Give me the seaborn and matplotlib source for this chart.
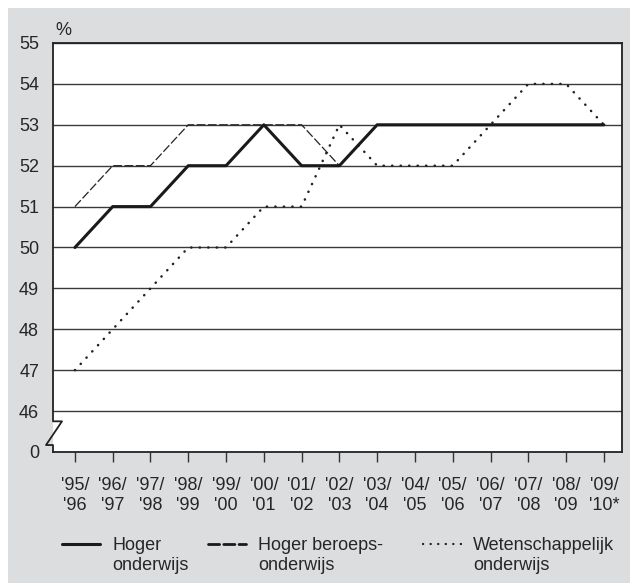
import matplotlib
matplotlib.use("Agg")
import matplotlib.pyplot as plt
import seaborn as sns
import pandas as pd
from matplotlib.lines import Line2D
from matplotlib.patches import Rectangle
from matplotlib.transforms import blended_transform_factory

years = ["'95/\n'96", "'96/\n'97", "'97/\n'98", "'98/\n'99", "'99/\n'00",
         "'00/\n'01", "'01/\n'02", "'02/\n'03", "'03/\n'04", "'04/\n'05",
         "'05/\n'06", "'06/\n'07", "'07/\n'08", "'08/\n'09", "'09/\n'10*"]
hoger_onderwijs = [50, 51, 51, 52, 52, 53, 52, 52, 53, 53, 53, 53, 53, 53, 53]
hbo = [51, 52, 52, 53, 53, 53, 53, 52, 53, 53, 53, 53, 53, 53, 53]
wo = [47, 48, 49, 50, 50, 51, 51, 53, 52, 52, 52, 53, 54, 54, 53]
y_ticks = [45, 46, 47, 48, 49, 50, 51, 52, 53, 54, 55]
y_labels = ["0", "46", "47", "48", "49", "50", "51", "52", "53", "54", "55"]
legend_labels = ["Hoger\nonderwijs", "Hoger beroeps-\nonderwijs", "Wetenschappelijk\nonderwijs"]

sns.set_theme(style="white")
plt.rcParams['font.family'] = ['Liberation Sans', 'DejaVu Sans']

W, H = 630, 583
fig = plt.figure(figsize=(W / 100, H / 100), dpi=100, facecolor="white")
bg = "#dcdddf"
fig.add_artist(Rectangle((8 / W, 0), 1 - 8 / W, 1 - 8 / H, transform=fig.transFigure,
                         facecolor=bg, edgecolor="none", zorder=-10))

L, R, T, B = 53, 622, 43, 452
ax = fig.add_axes([L / W, 1 - B / H, (R - L) / W, (B - T) / H])
ax.set_facecolor("white")

x = list(range(len(years)))
df = pd.DataFrame({"x": x, "ho": hoger_onderwijs, "hbo": hbo, "wo": wo})

for yv in range(46, 56):
    ax.axhline(yv, color="#3a3a3a", lw=1.0, zorder=1)

sns.lineplot(data=df, x="x", y="hbo", ax=ax, color="#222222", lw=0.9,
             linestyle=(0, (7, 2)), legend=False, zorder=3)
sns.lineplot(data=df, x="x", y="wo", ax=ax, color="#222222", lw=1.8,
             linestyle=(0, (0.1, 3.3)), dash_capstyle="round", legend=False, zorder=3)
sns.lineplot(data=df, x="x", y="ho", ax=ax, color="#1a1a1a", lw=2.2,
             legend=False, zorder=4)

ax.set_xlim(-0.58, 14.48)
ax.set_ylim(45, 55)
ax.set_xticks(x)
ax.set_xticklabels(years, fontsize=13, linespacing=1.25)
ax.set_yticks(y_ticks)
ax.set_yticklabels(y_labels, fontsize=13)
ax.set_xlabel("")
ax.set_ylabel("")
ax.tick_params(axis="x", which="both", bottom=True, length=7, width=1, color="#333333",
               pad=11, direction="out")
ax.tick_params(axis="y", left=False, length=0, pad=10)

for side in ["top", "right", "bottom"]:
    ax.spines[side].set_color("#222222")
    ax.spines[side].set_linewidth(1.3)
ax.spines["left"].set_visible(False)

# broken left axis
tr = blended_transform_factory(ax.transAxes, ax.transData)
dx1 = 9 / (R - L)
dx2 = -7 / (R - L)
ax.plot([0, 0, dx1, dx2, 0, 0], [55, 45.75, 45.75, 45.17, 45.17, 45],
        transform=tr, color="#222222", lw=1.3, clip_on=False, zorder=5)

fig.text(55 / W, 1 - 35 / H, "%", fontsize=13, ha="left", va="baseline")

# legend
handles = [dict(ls="-", lw=2.2), dict(ls=(0, (4, 1.5)), lw=2.0), dict(ls=(0, (0.1, 3.3)), lw=1.6)]
starts = [62, 208, 423]
ly = 544
for st, hd, lab in zip(starts, handles, legend_labels):
    fig.add_artist(Line2D([st / W, (st + 38) / W], [1 - ly / H, 1 - ly / H],
                          transform=fig.transFigure, color="#1a1a1a",
                          linestyle=hd["ls"], lw=hd["lw"], dash_capstyle="round"))
    fig.text((st + 50) / W, 1 - 537 / H, lab, fontsize=13, ha="left", va="top",
             linespacing=1.2)

fig.savefig("out.png", dpi=100, facecolor="white")
